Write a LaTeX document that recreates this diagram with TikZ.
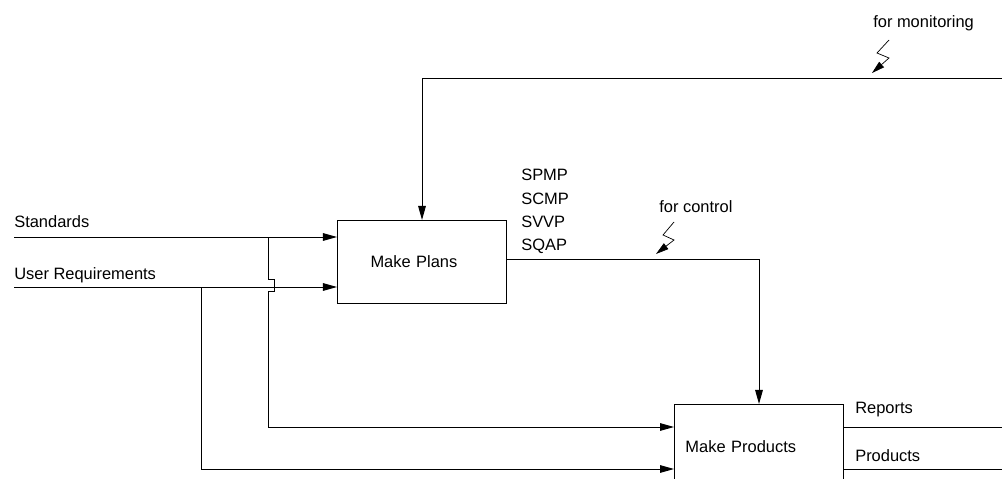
\documentclass[tikz,border=0pt]{standalone}
\usepackage{fontspec}
\setmainfont{Liberation Sans}
\usetikzlibrary{arrows.meta, positioning, calc}

\begin{document}
\begin{tikzpicture}[
    x=0.025cm, y=-0.025cm,
    every node/.style={font=\fontsize{11.7}{14}\selectfont},
    process/.style={rectangle, draw, line width=0.7pt, minimum height=2.08cm,
                    align=left, anchor=north west, inner ysep=0pt},
    lbl/.style={inner sep=0pt, anchor=base west},
    arrow/.style={-{Triangle[length=3.5mm, width=1.9mm]}, line width=0.7pt},
    flow/.style={line width=0.7pt},
    squig/.style={-{Triangle[length=3.2mm, width=1.8mm]}, line width=0.5pt},
]
\useasboundingbox (0,0) rectangle (1002,479);

% Processes
\node[process, inner xsep=0.825cm, text width=2.575cm] (plans) at (337,220) {Make Plans};
\node[process, inner xsep=0.275cm, text width=3.675cm, minimum height=2.1cm] (prods) at (674,404) {Make Products};

% Inputs
\node[lbl] (stdtxt) at (14,228) {Standards};
\node[lbl] (urtxt) at (14,279) {User Requirements};
\coordinate (std) at (14,237);
\coordinate (ur) at (14,287);
\draw[arrow] (std) -- (std -| plans.west);
\draw[arrow] (ur) -- (ur -| plans.west);

% Inputs to Make Products
\coordinate (stdj) at (268,237);
\coordinate (urj) at (201,287);
\draw[arrow] (stdj) -- ++(0,42) -- ++(6,0) -- ++(0,12) -- ++(-6,0)
    |- ($(prods.north west)+(0,23)$);
\draw[arrow] (urj) |- ($(prods.north west)+(0,65)$);

% Plans
\foreach \t [count=\i] in {SPMP,SCMP,SVVP,SQAP}
    \node[lbl] (doc\i) at (521,158+23*\i) {\t};
\draw[arrow] ($(plans.north east)+(0,39)$) -| (prods.north);

% Control
\node[lbl] (ctltxt) at (659,212) {for control};
\coordinate (ctltip) at (656,254);
\draw[squig] ($(ctltxt.base west)+(15,10)$) -- ++(-11,13) -- ++(11,5) -- (ctltip);

% Monitoring
\coordinate (mon) at (1002,78);
\draw[arrow] (mon) -| (plans.north);
\node[lbl] (montxt) at (873,28) {for monitoring};
\coordinate (montip) at (872,73);
\draw[squig] ($(montxt.base west)+(16,12)$) -- ++(-12,13) -- ++(12,5) -- (montip);

% Outputs
\coordinate (rep) at (1002,427);
\coordinate (prd) at (1002,469);
\draw[flow] ($(prods.north east)+(0,23)$) -- (rep);
\draw[flow] ($(prods.north east)+(0,65)$) -- (prd);
\node[lbl] (reptxt) at (855,413) {Reports};
\node[lbl] (prdtxt) at (855,461) {Products};
\end{tikzpicture}
\end{document}
